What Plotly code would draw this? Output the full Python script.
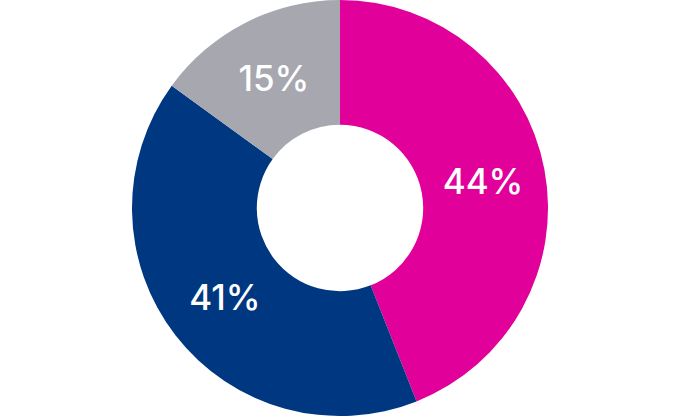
import plotly.graph_objects as go

labels = ["A", "B", "C"]
values = [44, 41, 15]
text_labels = ["44%", "41%", "15%"]
colors = ["#e2009b", "#003781", "#a6a7af"]

fig = go.Figure(go.Pie(
    labels=labels,
    values=values,
    text=text_labels,
    textinfo="text",
    textposition="inside",
    insidetextorientation="horizontal",
    hole=0.4,
    sort=False,
    direction="clockwise",
    rotation=0,
    marker=dict(colors=colors, line=dict(width=0)),
    textfont=dict(family="Inter, Lato, sans-serif", size=35, color="white", weight=500),
    domain=dict(x=[0, 1], y=[0, 1]),
    showlegend=False,
    hoverinfo="skip",
))
fig.update_layout(
    width=680, height=416,
    margin=dict(l=0, r=0, t=0, b=0),
    paper_bgcolor="white",
    plot_bgcolor="white",
    uniformtext=dict(minsize=35, mode="show"),
)
fig.write_html("out.html", config={"displayModeBar": False},
               post_script="document.body.style.margin='0';")
